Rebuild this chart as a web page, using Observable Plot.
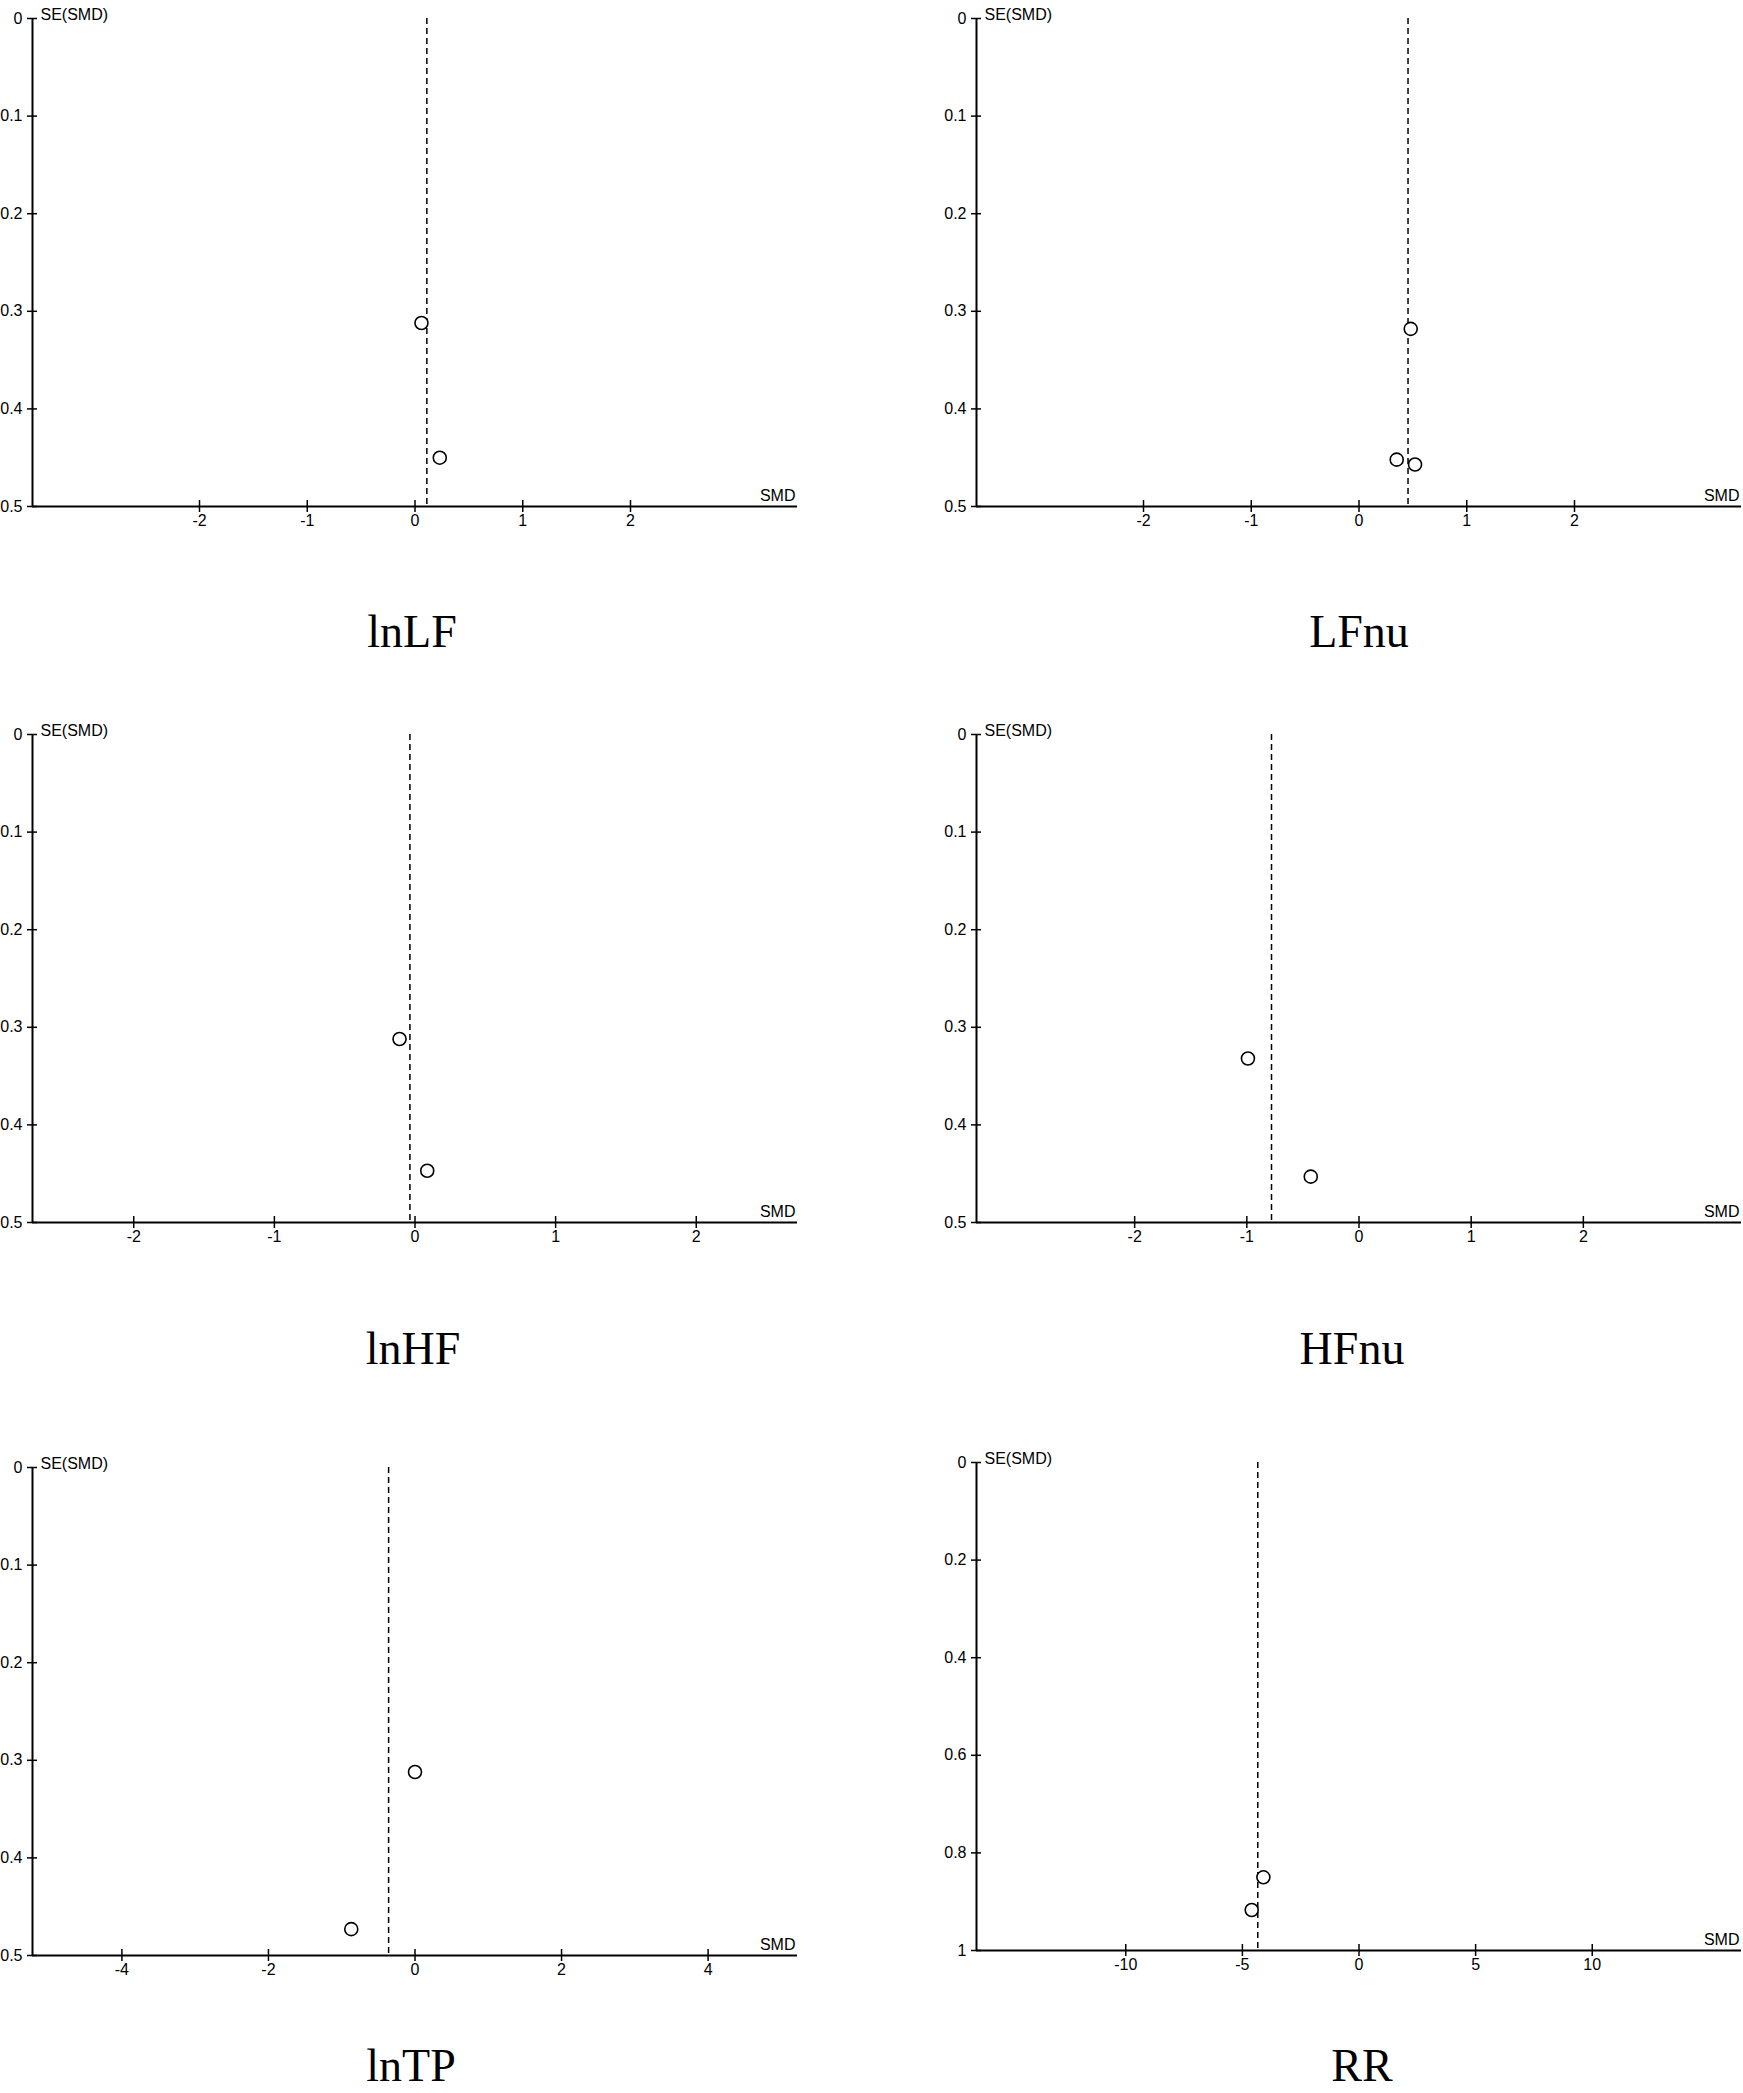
<!DOCTYPE html>
<html><head><meta charset="utf-8">
<script src="https://cdn.jsdelivr.net/npm/d3@7"></script>
<script src="https://cdn.jsdelivr.net/npm/@observablehq/plot@0.6"></script>
<style>
html,body{margin:0;padding:0;background:#fff;}
#page{position:relative;width:1743px;height:2093px;overflow:hidden;background:#fff;}
.panel{position:absolute;}
.title{position:absolute;width:400px;text-align:center;font-family:"Liberation Serif","Times New Roman",serif;font-size:46px;line-height:34px;color:#000;white-space:nowrap;}
</style></head><body><div id="page"></div>
<script>
// ---- data ----
const panelNames = ["lnLF", "LFnu", "lnHF", "HFnu", "lnTP", "RR"];
const smdLimits = [3.55, 3.55, 2.72, 3.41, 5.22, 16.4];
const seMax = [0.5, 0.5, 0.5, 0.5, 0.5, 1];
const xTickValues = [
  [-2, -1, 0, 1, 2],
  [-2, -1, 0, 1, 2],
  [-2, -1, 0, 1, 2],
  [-2, -1, 0, 1, 2],
  [-4, -2, 0, 2, 4],
  [-10, -5, 0, 5, 10]
];
const yTickValues = [
  [0, 0.1, 0.2, 0.3, 0.4, 0.5],
  [0, 0.1, 0.2, 0.3, 0.4, 0.5],
  [0, 0.1, 0.2, 0.3, 0.4, 0.5],
  [0, 0.1, 0.2, 0.3, 0.4, 0.5],
  [0, 0.1, 0.2, 0.3, 0.4, 0.5],
  [0, 0.2, 0.4, 0.6, 0.8, 1]
];
const pooledSMD = [0.11, 0.455, -0.036, -0.78, -0.36, -4.34];
const studySMD = [
  [0.06, 0.23],
  [0.48, 0.35, 0.52],
  [-0.11, 0.087],
  [-0.99, -0.43],
  [0.0, -0.87],
  [-4.1, -4.6]
];
const studySE = [
  [0.312, 0.450],
  [0.318, 0.452, 0.457],
  [0.312, 0.447],
  [0.332, 0.453],
  [0.312, 0.473],
  [0.850, 0.917]
];

// ---- layout ----
const panelLeft = [0, 944, 0, 944, 0, 944];
const panelTop = [0, 0, 716, 716, 1449, 1444];
const titleCenter = [412, 1359, 413, 1352, 411, 1362];
const titleBaseline = [648, 648, 1365, 1365, 2082, 2082];

const page = document.getElementById("page");

function funnel(i) {
  const L = smdLimits[i], ymax = seMax[i];
  const pts = studySMD[i].map((x, j) => ({smd: x, se: studySE[i][j]}));
  return Plot.plot({
    width: 799, height: 538,
    marginLeft: 32, marginRight: 2, marginTop: 18, marginBottom: 32,
    style: {fontFamily: "'Liberation Sans', Arial, sans-serif", fontSize: "16px", background: "white", color: "black", overflow: "visible"},
    x: {domain: [-L, L]},
    y: {domain: [0, ymax], reverse: true},
    marks: [
      Plot.ruleY([ymax], {stroke: "black", strokeWidth: 2}),
      Plot.ruleX([-L], {y1: 0, y2: ymax, stroke: "black", strokeWidth: 2}),
      Plot.ruleX(xTickValues[i], {x: d => d, y1: ymax, y2: ymax, insetTop: -6, insetBottom: -6, stroke: "black", strokeWidth: 1.5}),
      Plot.ruleY(yTickValues[i], {y: d => d, x1: -L, x2: -L, insetLeft: -5, insetRight: -5, stroke: "black", strokeWidth: 1.5}),
      Plot.axisX(xTickValues[i], {tickSize: 0, tickPadding: 8, label: null, tickFormat: d => String(d), fontSize: 16}),
      Plot.axisY(yTickValues[i], {tickSize: 0, tickPadding: 10, label: null, tickFormat: d => String(d), fontSize: 16}),
      Plot.ruleX([pooledSMD[i]], {x: d => d, y1: 0, y2: ymax, stroke: "black", strokeWidth: 1.5, strokeDasharray: "6,4"}),
      Plot.dot(pts, {x: "smd", y: "se", r: 6.5, stroke: "black", fill: "white", strokeWidth: 1.6}),
      Plot.text(["SMD"], {text: d => d, frameAnchor: "bottom-right", textAnchor: "end", lineAnchor: "bottom", dx: -2, dy: -6, fontSize: 16}),
      Plot.text(["SE(SMD)"], {text: d => d, frameAnchor: "top-left", textAnchor: "start", dx: 8, dy: -10, fontSize: 16})
    ]
  });
}

panelNames.forEach((name, i) => {
  const div = document.createElement("div");
  div.className = "panel";
  div.style.left = panelLeft[i] + "px";
  div.style.top = panelTop[i] + "px";
  div.appendChild(funnel(i));
  page.appendChild(div);

  const t = document.createElement("div");
  t.className = "title";
  t.textContent = name;
  t.style.left = (titleCenter[i] - 200) + "px";
  // line-height 34px: baseline sits 34/2 + 15.55 px below the box top
  t.style.top = (titleBaseline[i] - 32.55) + "px";
  page.appendChild(t);
});
</script>
</body></html>
